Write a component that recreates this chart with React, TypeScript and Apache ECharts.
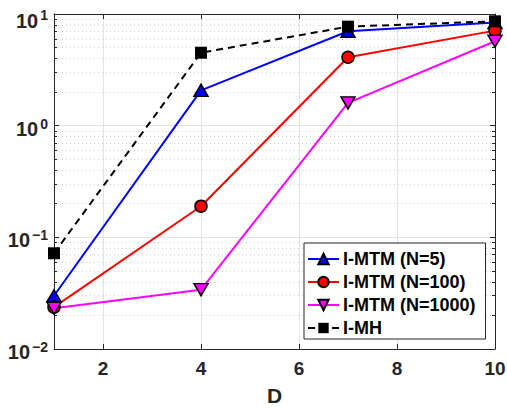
import React, { useEffect, useRef } from "react";
import * as echarts from "echarts";

// Problem dimension D and the measured values for each sampler
const D = [1, 4, 7, 10];
const mtmN5 = [0.030, 2.07, 7.0, 8.4];
const mtmN100 = [0.0237, 0.19, 4.1, 7.1];
const mtmN1000 = [0.0232, 0.034, 1.6, 5.7];
const iMH = [0.072, 4.5, 7.7, 8.6];

const xTicks = [2, 4, 6, 8, 10];
const yMajor = [0.01, 0.1, 1, 10];
const yMinor = [
  0.02, 0.03, 0.04, 0.05, 0.06, 0.07, 0.08, 0.09,
  0.2, 0.3, 0.4, 0.5, 0.6, 0.7, 0.8, 0.9,
  2, 3, 4, 5, 6, 7, 8, 9,
];

const FONT = "'Liberation Sans', Arial, Helvetica, sans-serif";
const AXIS = "#262626";

const pairs = (ys: number[]) => D.map((d, i) => [d, ys[i]]);

// power-of-ten label: mantissa pushed low, exponent raised at the top of the line
const base = (padTop: number) => ({
  fontFamily: FONT,
  fontWeight: "bold",
  fontSize: 20,
  color: AXIS,
  verticalAlign: "bottom",
  padding: [padTop, 0, 0, 0],
});
const sup = (padTop: number) => ({
  fontFamily: FONT,
  fontWeight: "bold",
  fontSize: 14,
  color: AXIS,
  verticalAlign: "top",
  padding: [padTop, 0, 0, 2],
});

export default function App() {
  const ref = useRef<HTMLDivElement>(null);

  useEffect(() => {
    if (!ref.current) return;
    const chart = echarts.init(ref.current, undefined, { renderer: "svg" });

    const logAxis = (extra: any) => ({
      type: "log",
      logBase: 10,
      min: 0.01,
      max: 10,
      axisLine: { show: false },
      axisLabel: { show: false },
      splitLine: { show: false },
      ...extra,
    });

    chart.setOption({
      animation: false,
      backgroundColor: "#ffffff",
      grid: { left: 54, right: 12, top: 14, bottom: 59, outerBoundsMode: "none" },
      xAxis: [
        {
          type: "value",
          min: 1,
          max: 10,
          position: "bottom",
          name: "D",
          nameLocation: "middle",
          nameGap: 36,
          nameTextStyle: { fontFamily: FONT, fontWeight: "bold", fontSize: 21, color: AXIS },
          axisLine: { show: true, lineStyle: { color: AXIS, width: 1 } },
          axisTick: { show: true, inside: true, length: 5, customValues: xTicks, lineStyle: { color: AXIS } },
          axisLabel: {
            customValues: xTicks,
            margin: 10,
            fontFamily: FONT,
            fontWeight: "bold",
            fontSize: 19,
            color: AXIS,
          },
          splitLine: { show: true, lineStyle: { color: "#e3e3e3", width: 1 } },
        },
        {
          type: "value",
          min: 1,
          max: 10,
          position: "top",
          axisLine: { show: true, lineStyle: { color: AXIS, width: 1 } },
          axisTick: { show: true, inside: true, length: 5, customValues: xTicks, lineStyle: { color: AXIS } },
          axisLabel: { show: false },
          splitLine: { show: false },
        },
      ],
      yAxis: [
        logAxis({
          position: "left",
          axisLine: { show: true, lineStyle: { color: AXIS, width: 1 } },
          axisTick: { show: true, inside: true, length: 5, customValues: yMajor, lineStyle: { color: AXIS } },
          axisLabel: {
            show: true,
            customValues: yMajor,
            margin: 6,
            formatter: (v: number) => {
              const e = Math.round(Math.log10(v));
              const txt = e < 0 ? `\u2212${-e}` : `${e}`;
              return e === 1 ? `{bt|10}{st|${txt}}` : `{b|10}{s|${txt}}`;
            },
            rich: {
              b: base(6),
              s: sup(4),
              bt: base(13),
              st: sup(10),
            },
          },
          splitLine: { show: true, lineStyle: { color: "#e3e3e3", width: 1 } },
        }),
        logAxis({
          position: "left",
          axisTick: { show: true, inside: true, length: 3, customValues: yMinor, lineStyle: { color: AXIS } },
          splitLine: { show: true, lineStyle: { color: "#cfcfcf", width: 1, type: [1, 3] } },
        }),
        logAxis({
          position: "right",
          axisLine: { show: true, lineStyle: { color: AXIS, width: 1 } },
          axisTick: { show: true, inside: true, length: 5, customValues: yMajor, lineStyle: { color: AXIS } },
        }),
        logAxis({
          position: "right",
          axisTick: { show: true, inside: true, length: 3, customValues: yMinor, lineStyle: { color: AXIS } },
        }),
      ],
      legend: {
        orient: "vertical",
        left: 304,
        top: 243,
        padding: [7, 10, 2, 3],
        itemWidth: 31,
        itemHeight: 13,
        itemGap: 5,
        backgroundColor: "#ffffff",
        borderColor: AXIS,
        borderWidth: 1,
        borderRadius: 0,
        textStyle: { fontFamily: FONT, fontWeight: "bold", fontSize: 18, color: "#000000", padding: [0, 0, 0, -1] },
        data: ["I-MTM (N=5)", "I-MTM (N=100)", "I-MTM (N=1000)", "I-MH"],
      },
      series: [
        {
          name: "I-MTM (N=5)",
          type: "line",
          data: pairs(mtmN5),
          symbol: "triangle",
          symbolSize: [14, 12],
          lineStyle: { color: "#0000ff", width: 2 },
          itemStyle: { color: "#0000ff", borderColor: "#000000", borderWidth: 1.5 },
        },
        {
          name: "I-MTM (N=100)",
          type: "line",
          data: pairs(mtmN100),
          symbol: "circle",
          symbolSize: 12,
          lineStyle: { color: "#ff0000", width: 2 },
          itemStyle: { color: "#ff0000", borderColor: "#000000", borderWidth: 1.5 },
        },
        {
          name: "I-MTM (N=1000)",
          type: "line",
          data: pairs(mtmN1000),
          symbol: "triangle",
          symbolRotate: 180,
          symbolSize: [14, 12],
          lineStyle: { color: "#ff00ff", width: 2 },
          itemStyle: { color: "#ff00ff", borderColor: "#000000", borderWidth: 1.5 },
        },
        {
          name: "I-MH",
          type: "line",
          data: pairs(iMH),
          symbol: "rect",
          symbolSize: 12,
          lineStyle: { color: "#000000", width: 2, type: [7, 5] },
          itemStyle: { color: "#000000", borderColor: "#000000", borderWidth: 0 },
        },
      ],
    });

    return () => chart.dispose();
  }, []);

  return (
    <div
      ref={ref}
      style={{ position: "fixed", left: 0, top: 0, width: 507, height: 408 }}
    />
  );
}
